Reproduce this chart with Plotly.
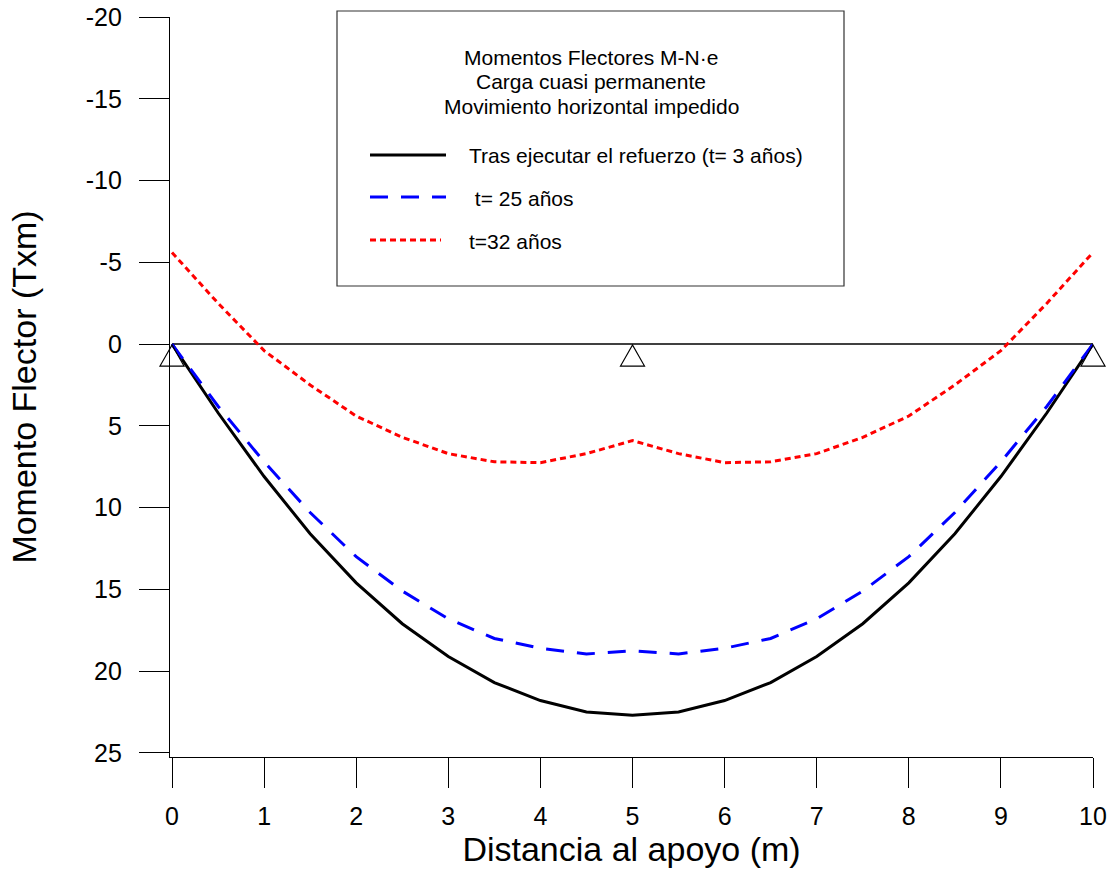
import plotly.graph_objects as go

# ---------------- data ----------------
x_m = [0, 0.5, 1, 1.5, 2, 2.5, 3, 3.5, 4, 4.5, 5, 5.5, 6, 6.5, 7, 7.5, 8, 8.5, 9, 9.5, 10]
m_t3 = [0, 4.2, 8.1, 11.6, 14.6, 17.1, 19.1, 20.7, 21.8, 22.5, 22.7,
        22.5, 21.8, 20.7, 19.1, 17.1, 14.6, 11.6, 8.1, 4.2, 0]
m_t25 = [0, 3.8, 7.2, 10.3, 13.0, 15.1, 16.8, 18.0, 18.6, 18.95, 18.75,
         18.95, 18.6, 18.0, 16.8, 15.1, 13.0, 10.3, 7.2, 3.8, 0]
m_t32 = [-5.6, -2.5, 0.4, 2.5, 4.4, 5.7, 6.7, 7.2, 7.25, 6.7, 5.9,
         6.7, 7.25, 7.2, 6.7, 5.7, 4.4, 2.5, 0.4, -2.5, -5.6]
supports_x = [0, 5, 10]
x_ticks = [0, 1, 2, 3, 4, 5, 6, 7, 8, 9, 10]
y_ticks = [-20, -15, -10, -5, 0, 5, 10, 15, 20, 25]
y_tick_labels = ["-20", "-15", "-10", "-5", "0", "5", "10", "15", "20", "25"]
legend_title_lines = ["Momentos Flectores M-N·e", "Carga cuasi permanente",
                      "Movimiento horizontal impedido"]
series_names = ["Tras ejecutar el refuerzo (t= 3 años)", " t= 25 años", "t=32 años"]
x_title = "Distancia al apoyo (m)"
y_title = "Momento Flector (Txm)"

FONT = "Liberation Sans, Arial, sans-serif"

X_RANGE = [-0.0217, 10]
Y_RANGE = [25.25, -20]

# plot area in pixels
PL, PR, PT, PB = 170, 1093, 17, 757


def px_x(p):
    return (p - PL) / (PR - PL)


def px_y(p):
    return (PB - p) / (PB - PT)


def data_to_paper_x(v):
    return (v - X_RANGE[0]) / (X_RANGE[1] - X_RANGE[0])


def data_to_paper_y(v):
    return (v - Y_RANGE[0]) / (Y_RANGE[1] - Y_RANGE[0])


fig = go.Figure()

styles = [
    dict(color="#000000", width=3, dash="solid"),
    dict(color="#0000FF", width=3, dash="18px,13px"),
    dict(color="#FF0000", width=3, dash="6px,4px"),
]
for ys, name, st in zip([m_t3, m_t25, m_t32], series_names, styles):
    fig.add_trace(go.Scatter(x=x_m, y=ys, mode="lines", name=name, line=st,
                             showlegend=False, hoverinfo="skip"))

shapes = []
# zero (beam) line
shapes.append(dict(type="line", xref="x", yref="y", x0=x_m[0], x1=x_m[-1], y0=0, y1=0,
                   line=dict(color="#000000", width=1.5), layer="below"))
# supports (triangles) - paper refs so they are not clipped at the plot edges
for sx in supports_x:
    shapes.append(dict(type="path", xref="paper", yref="paper", xsizemode="pixel", ysizemode="pixel",
                       xanchor=data_to_paper_x(sx), yanchor=data_to_paper_y(0),
                       path="M0,-1 L-12,-22 L12,-22 Z",
                       line=dict(color="#000000", width=1.2), fillcolor="rgba(0,0,0,0)"))

# legend box
shapes.append(dict(type="rect", xref="paper", yref="paper",
                   x0=px_x(337), x1=px_x(844), y0=px_y(286), y1=px_y(11),
                   line=dict(color="#333333", width=1.2), fillcolor="white"))
sample_y = [155, 197, 240]
sample_x1 = [446, 446, 441]
for st, sy, sx1 in zip(styles, sample_y, sample_x1):
    shapes.append(dict(type="line", xref="paper", yref="paper",
                       x0=px_x(370), x1=px_x(sx1), y0=px_y(sy), y1=px_y(sy),
                       line=st))

annotations = []
for line, ly in zip(legend_title_lines, [57, 81, 106]):
    annotations.append(dict(text=line, xref="paper", yref="paper", x=px_x(591), y=px_y(ly),
                            xanchor="center", yanchor="middle", showarrow=False,
                            font=dict(family=FONT, size=21, color="#000000")))
for name, sy in zip(series_names, sample_y):
    annotations.append(dict(text=name.replace(" ", "&nbsp;") if name.startswith(" ") else name,
                            xref="paper", yref="paper", x=px_x(467), y=px_y(sy + 1),
                            xanchor="left", yanchor="middle", showarrow=False,
                            font=dict(family=FONT, size=21, color="#000000")))

fig.update_layout(
    width=1112, height=874,
    margin=dict(l=PL, r=1112 - PR, t=PT, b=874 - PB, pad=0, autoexpand=False),
    paper_bgcolor="white", plot_bgcolor="white",
    font=dict(family=FONT, color="#000000"),
    shapes=shapes, annotations=annotations,
    showlegend=False,
)
fig.update_xaxes(
    range=X_RANGE, tickvals=x_ticks, showgrid=False, zeroline=False, automargin=False,
    showline=True, linecolor="#000000", linewidth=1.3,
    ticks="outside", ticklen=30, tickwidth=1.3, tickcolor="#000000",
    tickfont=dict(family=FONT, size=25, color="#000000"), ticklabelstandoff=7,
    title=dict(text=x_title, font=dict(family=FONT, size=34, color="#000000"), standoff=0),
)
fig.update_yaxes(
    range=Y_RANGE, tickvals=y_ticks, ticktext=y_tick_labels, showgrid=False, zeroline=False,
    automargin=False,
    showline=True, linecolor="#000000", linewidth=1.3,
    ticks="outside", ticklen=30, tickwidth=1.3, tickcolor="#000000",
    tickfont=dict(family=FONT, size=25, color="#000000"), ticklabelstandoff=12,
    title=dict(text=y_title, font=dict(family=FONT, size=34, color="#000000"), standoff=38),
)

fig.write_html("out.html")
